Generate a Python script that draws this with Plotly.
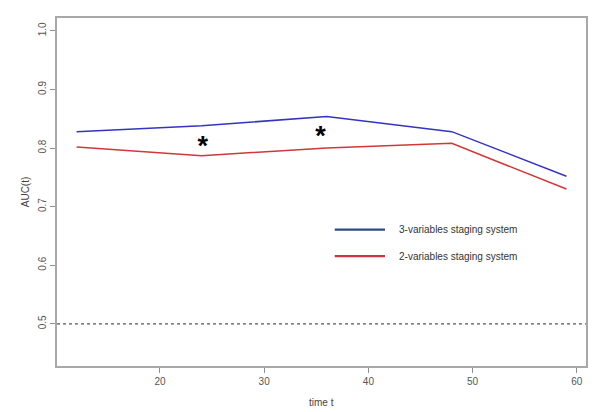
import plotly.graph_objects as go

time_points = [12, 24, 36, 48, 59]
auc_3var = [0.828, 0.838, 0.854, 0.828, 0.752]
auc_2var = [0.802, 0.787, 0.800, 0.808, 0.730]
star_x = [24.1, 35.4]
star_y = [0.799, 0.816]
series_names = ["3-variables staging system", "2-variables staging system"]
x_ticks = [20, 30, 40, 50, 60]
y_ticks = [0.5, 0.6, 0.7, 0.8, 0.9, 1.0]
reference_auc = 0.5

blue = "#3434c0"
red = "#d03838"

fig = go.Figure()
fig.add_trace(go.Scatter(x=time_points, y=auc_3var, mode="lines",
                         line=dict(color=blue, width=1.5), name=series_names[0],
                         showlegend=False))
fig.add_trace(go.Scatter(x=time_points, y=auc_2var, mode="lines",
                         line=dict(color=red, width=1.5), name=series_names[1],
                         showlegend=False))
fig.add_trace(go.Scatter(x=star_x, y=star_y, mode="text", text=["<b>*</b>", "<b>*</b>"],
                         textposition="middle center",
                         textfont=dict(size=27, color="black", family="Liberation Sans"),
                         showlegend=False))

fig.add_shape(type="line", xref="paper", yref="y", x0=0, x1=1,
              y0=reference_auc, y1=reference_auc,
              line=dict(color="#555555", width=1.2, dash="3px,3px"))

# legend drawn manually
leg_cols = ["#2e4a8a", "#d0343c"]
leg_y = [0.392, 0.316]
for name, c, yy in zip(series_names, leg_cols, leg_y):
    fig.add_shape(type="line", xref="paper", yref="paper", x0=0.525, x1=0.620,
                  y0=yy, y1=yy, line=dict(color=c, width=2.2))
    fig.add_annotation(xref="paper", yref="paper", x=0.642, y=yy, text=name,
                       showarrow=False, xanchor="left", yanchor="middle",
                       font=dict(family="Liberation Sans", size=10, color="#333333"))

fig.add_annotation(xref="paper", yref="paper", x=0.5, y=-0.106, text="time t",
                   showarrow=False, xanchor="center", yanchor="middle",
                   font=dict(family="Liberation Sans", size=10, color="#444444"))
fig.add_annotation(xref="paper", yref="paper", x=-0.06, y=0.5, text="AUC(t)",
                   showarrow=False, xanchor="center", yanchor="middle", textangle=-90,
                   font=dict(family="Liberation Sans", size=10, color="#444444"))

axis_common = dict(showline=True, mirror=True, linecolor="#a8a8a8", linewidth=1.5,
                   showgrid=False, zeroline=False, ticks="outside", ticklen=5,
                   tickcolor="#909090", tickwidth=1.2,
                   tickfont=dict(family="Liberation Sans", size=10, color="#555555"))

fig.update_xaxes(range=[10.12, 60.88], tickvals=x_ticks, **axis_common)
fig.update_yaxes(range=[0.428, 1.022], tickvals=y_ticks, tickformat=".1f",
                 tickangle=-90, **axis_common)

fig.update_layout(width=592, height=412, margin=dict(l=57, r=4, t=18, b=46),
                  paper_bgcolor="white", plot_bgcolor="white")

fig.write_html("out.html", config={"displayModeBar": False},
               post_script="document.body.style.margin='0';document.body.style.overflow='hidden';")
